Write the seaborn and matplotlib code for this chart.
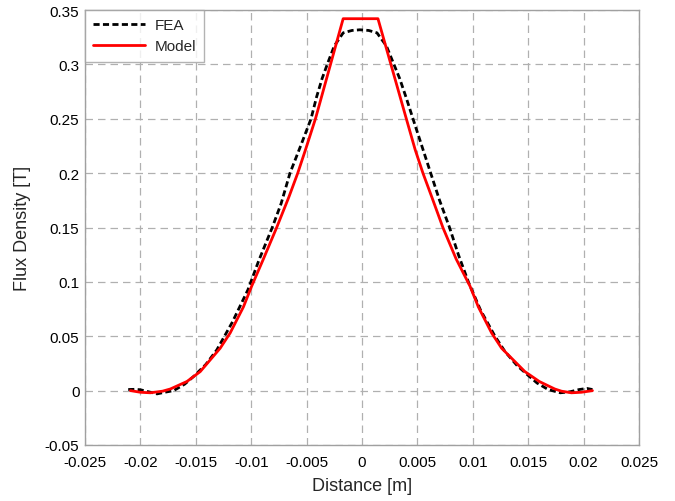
import numpy as np
import pandas as pd
import matplotlib
matplotlib.use("Agg")
import matplotlib.pyplot as plt
import seaborn as sns
from matplotlib.ticker import FormatStrFormatter

# FEA data
fea_x = [-0.0211, -0.0205, -0.0200, -0.0193, -0.0185, -0.0178, -0.0170, -0.0160,
         -0.0152, -0.0141, -0.0131, -0.0117, -0.0103, -0.0093, -0.0081, -0.0073,
         -0.0065, -0.0055, -0.0046, -0.0041, -0.0036, -0.0031, -0.0025, -0.0017,
         -0.0009, -0.0002, 0.0006, 0.00135, 0.0022, 0.0028, 0.0034, 0.0040,
         0.0046, 0.0054, 0.0062, 0.0070, 0.0079, 0.0087, 0.0096, 0.0107,
         0.0120, 0.0129, 0.0140, 0.0150, 0.0158, 0.0168, 0.0179, 0.0188,
         0.0196, 0.0203, 0.0208]
fea_y = [0.001, 0.0012, 0.0008, -0.001, -0.003, -0.0015, 0.000, 0.006,
         0.013, 0.024, 0.0375, 0.063, 0.0926, 0.120, 0.150, 0.172,
         0.200, 0.226, 0.250, 0.270, 0.287, 0.301, 0.317, 0.329,
         0.3312, 0.3318, 0.3312, 0.329, 0.317, 0.302, 0.287, 0.269,
         0.250, 0.225, 0.200, 0.175, 0.150, 0.125, 0.100, 0.074,
         0.050, 0.036, 0.023, 0.014, 0.007, 0.001, -0.002, -0.001,
         0.001, 0.002, 0.001]

# Model data
model_x = [-0.0209, -0.0200, -0.0191, -0.0180, -0.0173, -0.0158, -0.0146, -0.0128,
           -0.0119, -0.0107, -0.00996, -0.0089, -0.0077, -0.0066, -0.0058, -0.0051,
           -0.0042, -0.0017, 0.00144, 0.0040, 0.0048, 0.0055, 0.0063, 0.0073,
           0.0085, 0.00975, 0.0105, 0.0117, 0.0126, 0.0147, 0.0160, 0.0174,
           0.0180, 0.0189, 0.0198, 0.0208]
model_y = [0.000, -0.0015, -0.002, -0.0005, 0.0015, 0.0084, 0.0175, 0.039,
           0.053, 0.077, 0.096, 0.121, 0.150, 0.178, 0.200, 0.2215,
           0.250, 0.342, 0.342, 0.250, 0.2215, 0.200, 0.178, 0.150,
           0.121, 0.096, 0.077, 0.053, 0.039, 0.0175, 0.0084, 0.0015,
           -0.0005, -0.002, -0.0015, 0.000]

x_ticks = [-0.025, -0.02, -0.015, -0.01, -0.005, 0, 0.005, 0.01, 0.015, 0.02, 0.025]
y_ticks = [-0.05, 0, 0.05, 0.1, 0.15, 0.2, 0.25, 0.3, 0.35]

df = pd.concat([
    pd.DataFrame({"x": fea_x, "y": fea_y, "series": "FEA"}),
    pd.DataFrame({"x": model_x, "y": model_y, "series": "Model"}),
], ignore_index=True)

sns.set_theme(style="white")
plt.rcParams["font.family"] = ["Liberation Sans", "DejaVu Sans"]
plt.rcParams["axes.unicode_minus"] = False

fig = plt.figure(figsize=(6.75, 5.02), dpi=100)
ax = fig.add_axes([85 / 675, 1 - 446 / 502, (639 - 85) / 675, (446 - 11) / 502])

sns.lineplot(data=df, x="x", y="y", hue="series", style="series",
             palette={"FEA": "black", "Model": "#ff0000"},
             dashes={"FEA": (2.2, 1.2), "Model": ""},
             sort=False, estimator=None, linewidth=2.0, ax=ax, legend=True)

ax.set_xlim(-0.025, 0.025)
ax.set_ylim(-0.05, 0.35)
ax.set_xticks(x_ticks)
ax.set_yticks(y_ticks)
ax.xaxis.set_major_formatter(FormatStrFormatter("%g"))
ax.yaxis.set_major_formatter(FormatStrFormatter("%g"))
ax.grid(True, color="#b0b0b0", linestyle=(0, (6, 4)), linewidth=0.9)
ax.set_axisbelow(True)
for s in ax.spines.values():
    s.set_color("#a0a0a0")
    s.set_linewidth(1.0)
ax.tick_params(axis="both", labelsize=11, colors="black", direction="in",
               length=3, color="#a0a0a0")
ax.tick_params(axis="x", pad=7)
ax.tick_params(axis="y", pad=4)
ax.set_xlabel("Distance [m]", fontsize=13, labelpad=6)
ax.set_ylabel("Flux Density [T]", fontsize=13, labelpad=10)

handles, labels = ax.get_legend_handles_labels()
leg = ax.legend(handles, labels, loc="upper left", fontsize=11, frameon=True,
                fancybox=False, edgecolor="#a0a0a0", borderaxespad=0,
                handlelength=3.4, handletextpad=0.6, borderpad=0.55,
                labelspacing=0.45)
leg.get_frame().set_linewidth(1.0)

fig.savefig("out.png", dpi=100, facecolor="white")
